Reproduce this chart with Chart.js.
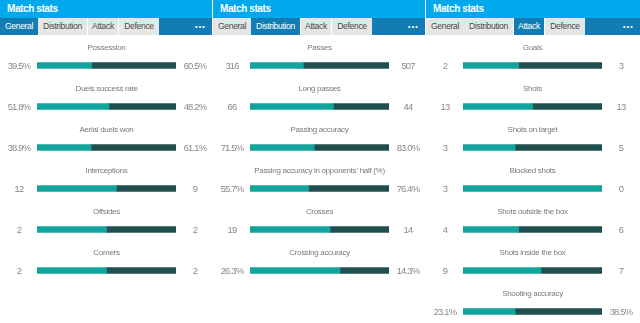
<!DOCTYPE html>
<html>
<head>
<meta charset="utf-8">
<script src="https://cdn.jsdelivr.net/npm/chart.js@4.4.1/dist/chart.umd.min.js"></script>
<style>
  html, body { margin: 0; padding: 0; background: #fff; overflow: hidden; }
  body { width: 640px; height: 323px; position: relative; font-family: "Liberation Sans", Arial, sans-serif; }
  .panel { position: absolute; top: 0; width: 212px; height: 340px; }
  .head { height: 18px; background: #00a9ec; color: #fff; font-weight: bold; font-size: 10px; line-height: 18px; padding-left: 7px; letter-spacing: -0.4px; }
  .tabs { position: relative; height: 17px; background: linear-gradient(to right, #fff 0, #fff 159px, #137db3 159px); }
  .tab { position: absolute; top: 0; height: 17px; line-height: 17px; text-align: center; font-size: 8.6px; color: #4a4a4a; background: #e6e6e6; letter-spacing: -0.35px; }
  .tab.on { background: #137db3; color: #fff; }
  .dots { position: absolute; right: 6px; top: 0; color: #fff; font-size: 7px; line-height: 17px; font-weight: bold; letter-spacing: 1.2px; }
  .box { position: relative; }
</style>
</head>
<body>
<div class="panel" id="p0" style="left:0"></div>
<div class="panel" id="p1" style="left:213px"></div>
<div class="panel" id="p2" style="left:426px;width:214px"></div>
<script>
// General
const generalCats = ['Possession', 'Duels success rate', 'Aerial duels won', 'Interceptions', 'Offsides', 'Corners'];
const generalHome = [39.5, 51.8, 38.9, 12, 2, 2];
const generalAway = [60.5, 48.2, 61.1, 9, 2, 2];
const generalPct = [true, true, true, false, false, false];

// Distribution
const distCats = ['Passes', 'Long passes', 'Passing accuracy', 'Passing accuracy in opponents\u2019 half (%)', 'Crosses', 'Crossing accuracy'];
const distHome = [316, 66, 71.5, 55.7, 19, 26.3];
const distAway = [507, 44, 83.0, 76.4, 14, 14.3];
const distPct = [false, false, true, true, false, true];

// Attack
const attackCats = ['Goals', 'Shots', 'Shots on target', 'Blocked shots', 'Shots outside the box', 'Shots inside the box', 'Shooting accuracy'];
const attackHome = [2, 13, 3, 3, 4, 9, 23.1];
const attackAway = [3, 13, 5, 0, 6, 7, 38.5];
const attackPct = [false, false, false, false, false, false, true];

const tabNames = ['General', 'Distribution', 'Attack', 'Defence'];
const tabLeft = [0, 38, 88, 119];
const tabWidth = [38, 49, 30, 40];

const homeColor = '#12a39d';
const awayColor = '#1f4f4f';

function fmt(v, pct) {
  return pct ? v.toFixed(1) + '%' : String(v);
}

// draws the stat name above each bar and the two values at its ends
const statText = {
  id: 'statText',
  afterDatasetsDraw(chart, args, opts) {
    const ctx = chart.ctx;
    const y = chart.scales.y;
    const a = chart.chartArea;
    ctx.save();
    ctx.textAlign = 'center';
    ctx.textBaseline = 'middle';
    opts.cats.forEach((c, i) => {
      const py = y.getPixelForValue(i);
      ctx.fillStyle = '#7a7a7a';
      ctx.font = '8px "Liberation Sans", Arial, sans-serif';
      ctx.letterSpacing = '-0.3px';
      ctx.fillText(c, (a.left + a.right) / 2, py - 18);
      ctx.fillStyle = '#888';
      ctx.font = '9.4px "Liberation Sans", Arial, sans-serif';
      ctx.letterSpacing = '-0.8px';
      ctx.fillText(fmt(opts.home[i], opts.pct[i]), 19, py + 0.5);
      ctx.fillText(fmt(opts.away[i], opts.pct[i]), 195, py + 0.5);
    });
    ctx.restore();
  }
};

function buildPanel(id, active, cats, home, away, pct) {
  const p = document.getElementById(id);
  let html = '<div class="head">Match stats</div><div class="tabs">';
  tabNames.forEach((t, i) => {
    html += '<div class="tab' + (i === active ? ' on' : '') + '" style="left:' + tabLeft[i] + 'px;width:' + tabWidth[i] + 'px">' + t + '</div>';
  });
  html += '<div class="dots">\u2022\u2022\u2022</div></div>';
  html += '<div class="box" style="height:' + (10 + cats.length * 41) + 'px"><canvas></canvas></div>';
  p.innerHTML = html;

  const homeShare = home.map((h, i) => (h + away[i]) ? h / (h + away[i]) : 0.5);
  const awayShare = homeShare.map(s => 1 - s);

  new Chart(p.querySelector('canvas'), {
    type: 'bar',
    data: {
      labels: cats,
      datasets: [
        { data: homeShare, backgroundColor: homeColor, barThickness: 6 },
        { data: awayShare, backgroundColor: awayColor, barThickness: 6 }
      ]
    },
    options: {
      indexAxis: 'y',
      responsive: true,
      maintainAspectRatio: false,
      animation: false,
      layout: { padding: { left: 37, right: p.offsetWidth - 176, top: 10, bottom: 0 } },
      plugins: {
        legend: { display: false },
        tooltip: { enabled: false },
        statText: { cats: cats, home: home, away: away, pct: pct }
      },
      scales: {
        x: { stacked: true, min: 0, max: 1, display: false },
        y: { stacked: true, display: false }
      }
    },
    plugins: [statText]
  });
}

buildPanel('p0', 0, generalCats, generalHome, generalAway, generalPct);
buildPanel('p1', 1, distCats, distHome, distAway, distPct);
buildPanel('p2', 2, attackCats, attackHome, attackAway, attackPct);
</script>
</body>
</html>
